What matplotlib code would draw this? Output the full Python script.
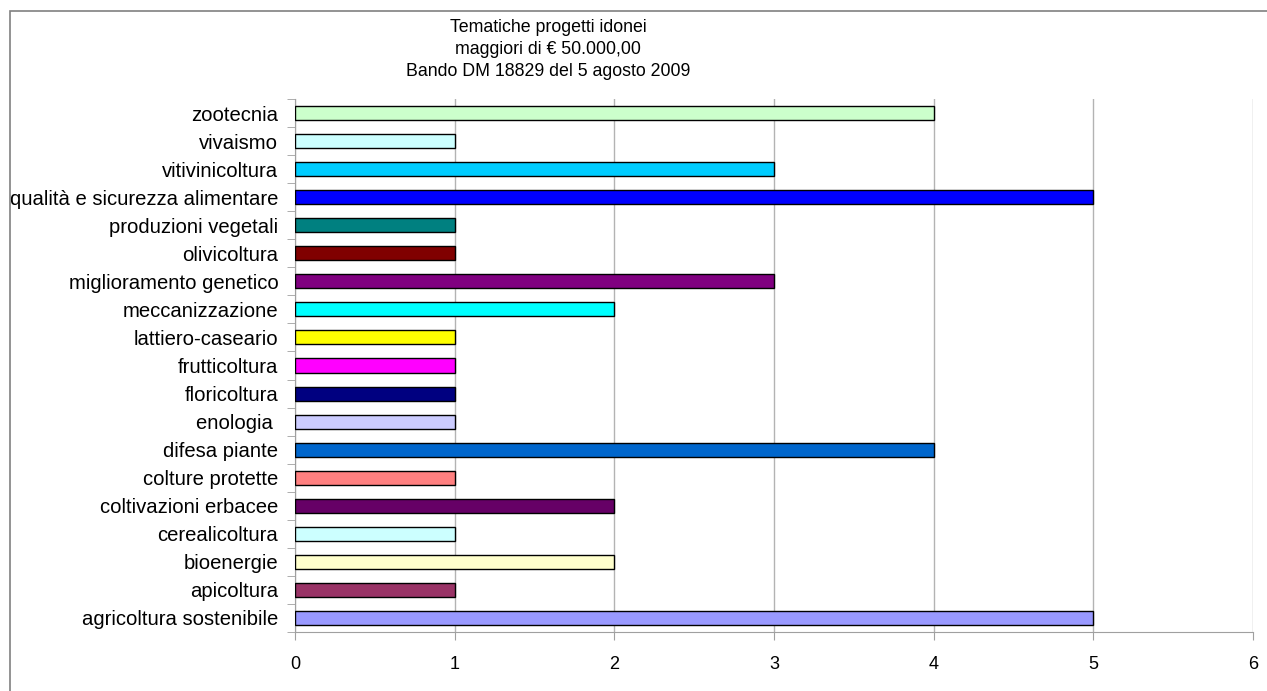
import numpy as np
import matplotlib.pyplot as plt
from matplotlib.patches import Rectangle

plt.rcParams["font.family"] = ["Liberation Sans", "DejaVu Sans"]

# Categories from bottom to top, as they appear in the chart
categories = [
    "agricoltura sostenibile", "apicoltura", "bioenergie", "cerealicoltura",
    "coltivazioni erbacee", "colture protette", "difesa piante", "enologia ",
    "floricoltura", "frutticoltura", "lattiero-caseario", "meccanizzazione",
    "miglioramento genetico", "olivicoltura", "produzioni vegetali",
    "qualità e sicurezza alimentare", "vitivinicoltura", "vivaismo", "zootecnia",
]
values = [5, 1, 2, 1, 2, 1, 4, 1, 1, 1, 1, 2, 3, 1, 1, 5, 3, 1, 4]
colors = [
    "#9999FF", "#993366", "#FFFFCC", "#CCFFFF", "#660066", "#FF8080",
    "#0066CC", "#CCCCFF", "#000080", "#FF00FF", "#FFFF00", "#00FFFF",
    "#800080", "#800000", "#008080", "#0000FF", "#00CCFF", "#CCFFFF",
    "#CCFFCC",
]
title_lines = ["Tematiche progetti idonei", "maggiori di € 50.000,00",
               "Bando DM 18829 del 5 agosto 2009"]

W, H = 1267, 691
fig = plt.figure(figsize=(W / 100, H / 100), dpi=100)
ax = fig.add_axes([295 / W, 1 - 632 / H, (1253 - 295) / W, (632 - 99) / H])

# outer chart border (only top and left visible in the image)
fig.patches.append(Rectangle((10 / W, -0.1), 1.2, 1 - 11 / H + 0.1,
                             transform=fig.transFigure, fill=False,
                             edgecolor="#808080", linewidth=1.2))

y = np.arange(len(categories))
ax.barh(y, values, height=0.5, color=colors, edgecolor="black", linewidth=1,
        zorder=3)

ax.set_xlim(0, 6)
ax.set_ylim(-0.5, len(categories) - 0.5)
ax.set_xticks(range(7))
ax.set_yticks(y)
ax.set_yticklabels(categories)
ax.set_yticks(np.arange(-0.5, len(categories), 1), minor=True)
ax.tick_params(axis="y", which="major", length=0, pad=12, labelsize=14.6)
ax.tick_params(axis="y", which="minor", length=6, color="#a0a0a0")
ax.tick_params(axis="x", length=6, color="#a0a0a0", pad=11, labelsize=13)
ax.xaxis.grid(True, color="#b3b3b3", linewidth=1, zorder=0)
for s in ["top", "right"]:
    ax.spines[s].set_visible(False)
for s in ["left", "bottom"]:
    ax.spines[s].set_color("#a0a0a0")

for i, line in enumerate(title_lines):
    fig.text(548 / W, 1 - (28 + 21.5 * i) / H, line, ha="center", va="center",
             fontsize=12.8)

fig.savefig("out.png", dpi=100)
